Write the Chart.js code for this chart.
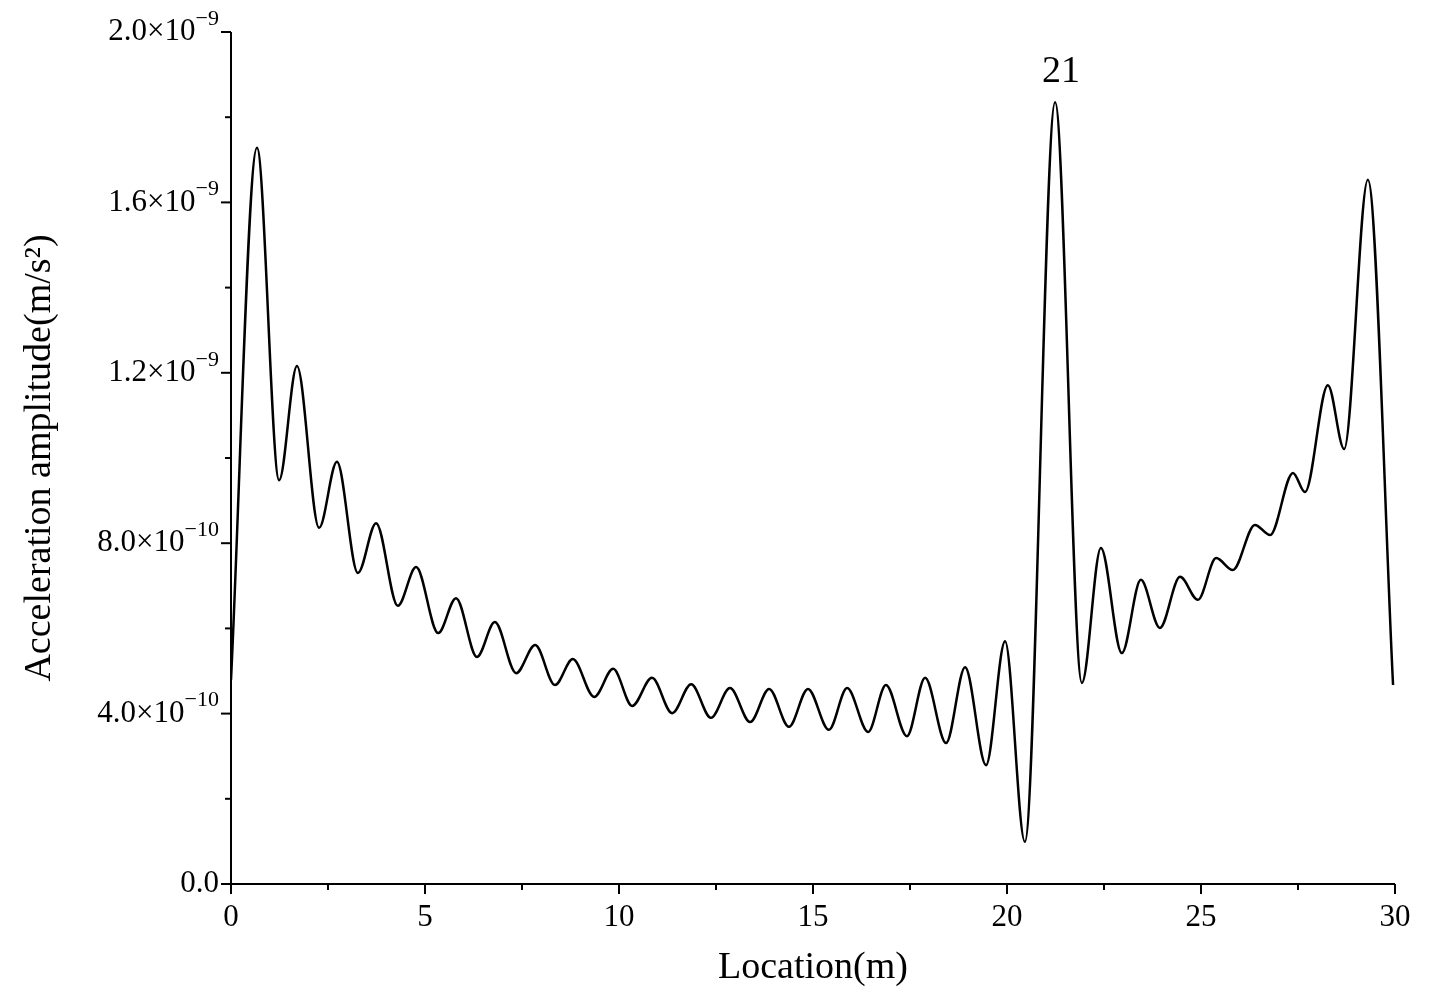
<!DOCTYPE html>
<html>
<head>
<meta charset="utf-8">
<script src="https://cdn.jsdelivr.net/npm/chart.js@4/dist/chart.umd.min.js"></script>
<style>
  html, body { margin: 0; padding: 0; background: #fff; }
  #wrap { width: 1432px; height: 1004px; }
</style>
</head>
<body>
<div id="wrap"><canvas id="chart" width="1432" height="1004"></canvas></div>
<script>
// Location (m) at the turning points of the curve
const locations = [0, 0.67, 1.24, 1.70, 2.27, 2.73, 3.27, 3.74, 4.30, 4.77, 5.34, 5.80, 6.34, 6.80,
  7.35, 7.84, 8.35, 8.81, 9.36, 9.85, 10.34, 10.85, 11.37, 11.86, 12.37, 12.86, 13.38, 13.87,
  14.38, 14.87, 15.41, 15.88, 16.42, 16.88, 17.42, 17.89, 18.43, 18.92, 19.46, 19.95, 20.46,
  21.24, 21.93, 22.42, 22.96, 23.45, 23.94, 24.46, 24.92, 25.39, 25.82, 26.39, 26.78, 27.37,
  27.68, 28.27, 28.69, 29.30, 29.95];
// Acceleration amplitude, in units of 1e-10 m/s^2
const amplitudes = [4.79, 17.28, 9.48, 12.16, 8.36, 9.91, 7.30, 8.47, 6.53, 7.44, 5.89, 6.71, 5.33, 6.15,
  4.95, 5.61, 4.67, 5.28, 4.39, 5.05, 4.18, 4.84, 4.01, 4.69, 3.90, 4.60, 3.80, 4.58,
  3.69, 4.58, 3.62, 4.60, 3.57, 4.67, 3.47, 4.84, 3.31, 5.09, 2.79, 5.70, 0.99,
  18.35, 4.72, 7.89, 5.42, 7.14, 6.01, 7.21, 6.67, 7.65, 7.37, 8.43, 8.19, 9.65,
  9.20, 11.71, 10.21, 16.53, 4.67];
const xTicks = [0, 5, 10, 15, 20, 25, 30];
const yTicks = [0, 4, 8, 12, 16, 20];
const yLabels = [['0.0', ''], ['4.0×10', '−10'], ['8.0×10', '−10'], ['1.2×10', '−9'], ['1.6×10', '−9'], ['2.0×10', '−9']];
const peakNote = { x: 21.24, y: 18.35, text: '21' };

const FONT = '"Liberation Serif", "Times New Roman", serif';

const axesPlugin = {
  id: 'axesPlugin',
  afterDraw(chart) {
    const ctx = chart.ctx;
    const xs = chart.scales.x, ys = chart.scales.y;
    const a = chart.chartArea;
    ctx.save();
    ctx.strokeStyle = '#000';
    ctx.fillStyle = '#000';
    ctx.lineWidth = 2;
    ctx.beginPath();
    ctx.moveTo(a.left, a.top); ctx.lineTo(a.left, a.bottom); ctx.lineTo(a.right, a.bottom);
    ctx.stroke();
    // x ticks
    ctx.lineWidth = 2;
    for (let v = 0; v <= 30; v += 2.5) {
      const px = xs.getPixelForValue(v);
      const len = v % 5 === 0 ? 10 : 6;
      ctx.beginPath(); ctx.moveTo(px, a.bottom); ctx.lineTo(px, a.bottom + len); ctx.stroke();
    }
    ctx.font = '31px ' + FONT;
    ctx.textAlign = 'center'; ctx.textBaseline = 'top';
    xTicks.forEach(v => ctx.fillText(String(v), xs.getPixelForValue(v), a.bottom + 18));
    // y ticks
    for (let v = 0; v <= 20; v += 2) {
      const py = ys.getPixelForValue(v);
      const len = v % 4 === 0 ? 10 : 6;
      ctx.beginPath(); ctx.moveTo(a.left, py); ctx.lineTo(a.left - len, py); ctx.stroke();
    }
    ctx.textBaseline = 'middle';
    yTicks.forEach((v, i) => {
      const py = ys.getPixelForValue(v);
      const [base, sup] = yLabels[i];
      ctx.font = '22px ' + FONT;
      const supW = ctx.measureText(sup).width;
      const right = a.left - 12;
      ctx.textAlign = 'right';
      if (sup) ctx.fillText(sup, right, py - 13);
      ctx.font = '31px ' + FONT;
      ctx.fillText(base, right - supW, py);
    });
    // axis titles
    ctx.font = '38px ' + FONT;
    ctx.textAlign = 'center'; ctx.textBaseline = 'middle';
    ctx.fillText('Location(m)', (a.left + a.right) / 2, 968);
    ctx.translate(40, 458);
    ctx.rotate(-Math.PI / 2);
    ctx.fillText('Acceleration amplitude(m/s²)', 0, 0);
    ctx.setTransform(1, 0, 0, 1, 0, 0);
    // peak annotation
    ctx.font = '38px ' + FONT;
    ctx.textBaseline = 'alphabetic';
    ctx.fillText(peakNote.text, xs.getPixelForValue(peakNote.x) + 6, ys.getPixelForValue(peakNote.y) - 20);
    ctx.restore();
  }
};

new Chart(document.getElementById('chart'), {
  type: 'scatter',
  data: {
    datasets: [{
      data: locations.map((x, i) => ({ x: x, y: amplitudes[i] })),
      showLine: true,
      borderColor: '#000',
      borderWidth: 2.5,
      pointRadius: 0,
      cubicInterpolationMode: 'monotone'
    }]
  },
  options: {
    responsive: false,
    animation: false,
    layout: { padding: { top: 32, right: 37, bottom: 0, left: 0 } },
    plugins: { legend: { display: false }, tooltip: { enabled: false } },
    scales: {
      x: {
        type: 'linear', min: 0, max: 30,
        grid: { display: false }, border: { display: false },
        ticks: { display: false },
        afterFit(s) { s.height = 120; }
      },
      y: {
        min: 0, max: 20,
        grid: { display: false }, border: { display: false },
        ticks: { display: false },
        afterFit(s) { s.width = 231; }
      }
    }
  },
  plugins: [axesPlugin]
});
</script>
</body>
</html>
